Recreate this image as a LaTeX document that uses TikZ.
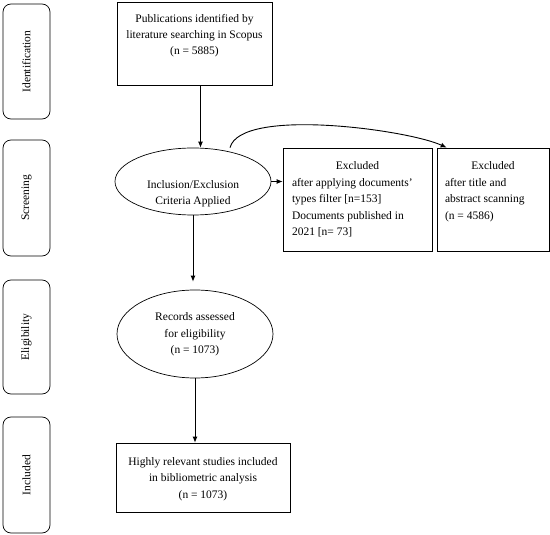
\documentclass[tikz,border=0pt]{standalone}
\usepackage{fontspec}
\setmainfont{Liberation Serif}
\usetikzlibrary{shapes.geometric,arrows.meta}
\begin{document}
\begin{tikzpicture}[x=1pt,y=-1pt,
  every node/.style={font=\fontsize{11.5}{16.5}\selectfont, text=black},
  side/.style={draw, rounded corners=8pt, rotate=90, minimum height=47pt, inner sep=0pt, line width=0.7pt},
  rbox/.style={draw, rectangle, inner sep=0pt, line width=0.7pt},
  oval/.style={draw, ellipse, inner sep=0pt, line width=0.7pt},
  arr/.style={-{Latex[length=6pt,width=5pt]}, line width=0.9pt}]
\path[use as bounding box] (0,0) rectangle (550,535);
% stage labels
\node[side, minimum width=115pt] (s1) at (26.5,61.5) {Identification};
\node[side, minimum width=116pt] (s2) at (26.5,198) {Screening};
\node[side, minimum width=114pt] (s3) at (26.5,337) {Eligibility};
\node[side, minimum width=116pt] (s4) at (26.5,475) {Included};
% main flow
\node[rbox] (pub) at (194.5,43.5) {\begin{minipage}[c][83pt][t]{155pt}\centering\rule{0pt}{20pt}Publications identified by\\literature searching in Scopus\\(n = 5885)\end{minipage}};
\node[oval, minimum width=156pt, minimum height=67pt] (incl) at (193,181.5) {\raisebox{-11.5pt}[\height][\depth]{\begin{tabular}{@{}c@{}}Inclusion/Exclusion\\Criteria Applied\end{tabular}}};
\node[rbox, inner xsep=9pt] (ex1) at (357.5,199.5) {\begin{minipage}[c][103pt][t]{131pt}\raggedright\centerline{\rule{0pt}{22pt}Excluded}after applying documents'\\types filter [n=153]\\Documents published in\\2021 [n= 73]\end{minipage}};
\node[rbox, inner xsep=8pt] (ex2) at (493,199.5) {\begin{minipage}[c][103pt][t]{96pt}\raggedright\centerline{\rule{0pt}{22pt}Excluded}after title and\\abstract scanning\\(n = 4586)\end{minipage}};
\node[oval, minimum width=156pt, minimum height=88pt] (rec) at (195,334) {\begin{tabular}{@{}c@{}}Records assessed\\for eligibility\\(n = 1073)\end{tabular}};
\node[rbox] (hi) at (203,477.5) {\begin{minipage}[c][69pt][t]{174pt}\centering\rule{0pt}{22pt}Highly relevant studies included\\in bibliometric analysis\\(n = 1073)\end{minipage}};
% connectors
\draw[arr] ([xshift=6pt]pub.south) -- ([xshift=6pt]pub.south |- incl.north);
\draw[arr] (incl.east) -- (ex1.west |- incl.east);
\draw[arr] ([xshift=37pt]incl.north) to[out=75,in=155,looseness=0.5] ([xshift=10pt]ex2.north west);
\draw[arr, shorten >=8pt] (incl.south) -- (incl.south |- rec.north);
\draw[arr] (rec.south) -- (rec.south |- hi.north);
\end{tikzpicture}
\end{document}
